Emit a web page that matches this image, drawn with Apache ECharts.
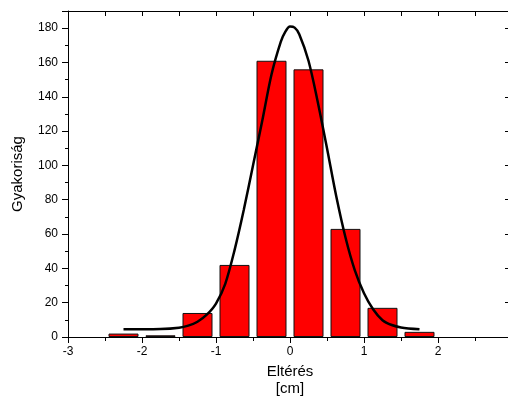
<!DOCTYPE html>
<html>
<head>
<meta charset="utf-8">
<script src="https://cdn.jsdelivr.net/npm/echarts@6/dist/echarts.min.js"></script>
<style>
  html, body { margin: 0; padding: 0; background: #fff; }
</style>
</head>
<body>
<div id="chart" style="width: 508px; height: 396px;"></div>
<script>
// histogram bins (centres, cm) and counts
const binCenters = [-2.25, -1.75, -1.25, -0.75, -0.25, 0.25, 0.75, 1.25, 1.75];
const counts = [2, 1, 14, 42, 161, 156, 63, 17, 3];

// fitted curve
const fitX = [-2.25, -2.0, -1.75, -1.5, -1.375, -1.25, -1.125, -1.0, -0.875, -0.75, -0.625, -0.5, -0.375, -0.25, -0.125,
  -0.0625, 0.0, 0.0625, 0.125, 0.25, 0.375, 0.5, 0.625, 0.75, 0.875, 1.0, 1.125, 1.25, 1.375, 1.5, 1.75];
const fitY = [4.5, 4.5, 4.6, 5.4, 6.6, 8.9, 13, 19.5, 31, 50.5, 74, 100, 126, 153, 172,
  178, 181, 180.3, 176.5, 161, 137, 110, 82, 58, 39, 25.5, 16, 9.8, 7, 5.6, 4.5];

const font = 'Liberation Sans, Arial, sans-serif';

const chart = echarts.init(document.getElementById('chart'));

const option = {
  backgroundColor: '#fff',
  animation: false,
  grid: { left: 68, top: 11, right: -4, bottom: 59, containLabel: false, outerBoundsMode: 'none' },
  xAxis: [
    {
      type: 'value',
      min: -3,
      max: 3,
      interval: 1,
      position: 'bottom',
      name: 'Eltérés\n[cm]',
      nameLocation: 'middle',
      nameGap: 18,
      nameTextStyle: { fontFamily: font, fontSize: 15, color: '#000', lineHeight: 17 },
      axisLine: { onZero: false, lineStyle: { color: '#000', width: 1 } },
      axisTick: { inside: false, length: 6, lineStyle: { color: '#000' } },
      minorTick: { show: true, splitNumber: 2, length: 4, lineStyle: { color: '#000' } },
      axisLabel: { fontFamily: font, fontSize: 12, color: '#000', margin: 9, showMaxLabel: false },
      splitLine: { show: false }
    },
    {
      type: 'value',
      min: -3,
      max: 3,
      interval: 0.5,
      position: 'top',
      axisLine: { onZero: false, lineStyle: { color: '#000', width: 1 } },
      axisTick: { inside: true, length: 5, lineStyle: { color: '#000' } },
      axisLabel: { show: false },
      splitLine: { show: false }
    }
  ],
  yAxis: [
    {
      type: 'value',
      min: 0,
      max: 190,
      interval: 20,
      position: 'left',
      name: 'Gyakoriság',
      nameLocation: 'middle',
      nameGap: 43,
      nameTextStyle: { fontFamily: font, fontSize: 15, color: '#000' },
      axisLine: { show: true, onZero: false, lineStyle: { color: '#000', width: 1 } },
      axisTick: { show: true, inside: false, length: 6, lineStyle: { color: '#000' } },
      minorTick: { show: true, splitNumber: 2, length: 3, lineStyle: { color: '#000' } },
      axisLabel: { fontFamily: font, fontSize: 12, color: '#000', margin: 10, showMaxLabel: false },
      splitLine: { show: false }
    },
    {
      type: 'value',
      min: 0,
      max: 190,
      interval: 20,
      position: 'right',
      axisLine: { show: true, onZero: false, lineStyle: { color: '#000', width: 1 } },
      axisTick: { show: true, inside: true, length: 7, lineStyle: { color: '#000' } },
      axisLabel: { show: false },
      splitLine: { show: false }
    }
  ],
  series: [
    {
      name: 'Counts',
      type: 'bar',
      xAxisIndex: 0,
      yAxisIndex: 0,
      barWidth: 30,
      itemStyle: { color: '#ff0000', borderColor: '#111', borderWidth: 1 },
      data: binCenters.map((x, i) => [x, counts[i]])
    },
    {
      name: 'Fit',
      type: 'line',
      xAxisIndex: 0,
      yAxisIndex: 0,
      smooth: 0.3,
      symbol: 'none',
      lineStyle: { color: '#000', width: 2.5 },
      data: fitX.map((x, i) => [x, fitY[i]]),
      z: 5
    }
  ]
};

chart.setOption(option);
</script>
</body>
</html>
